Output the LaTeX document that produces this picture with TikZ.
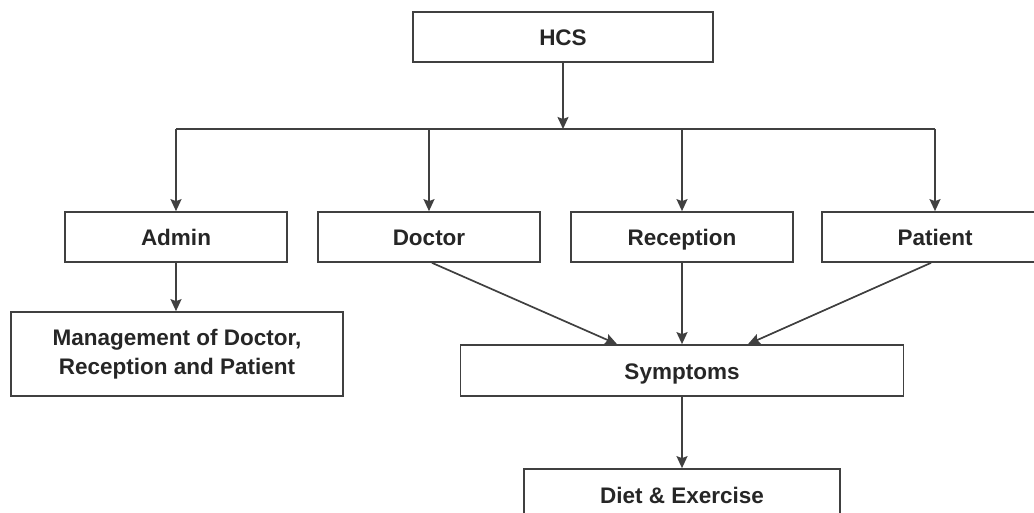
\documentclass[tikz,border=0pt]{standalone}
\usepackage{fontspec}
\setmainfont{Liberation Sans}
\usetikzlibrary{arrows.meta}

\begin{document}
\begin{tikzpicture}[
                x=1pt, y=1pt,
                node distance=253pt,
                every node/.style={
                    rectangle,
                    draw=black!75,
                    line width=1.7pt,
                    minimum width=222pt,
                    minimum height=50pt,
                    text height=21pt,
                    text depth=3pt,
                    inner sep=2pt,
                    text=black!85,
                    align=center,
                    font=\fontsize{22.5}{28.5}\selectfont\bfseries
                },
                >={Stealth[length=12pt,width=11pt,inset=2pt]},
                arrow/.style={->, draw=black!75, line width=1.7pt},
                wire/.style={draw=black!75, line width=1.7pt}
            ]
                \path[use as bounding box, clip] (0,0) rectangle (1034,-513);
                % nodes
                \node[minimum width=300pt] (hcs) at (563,-37) {HCS};
                \node (admin) at (176,-237) {Admin};
                \node (doctor) [right of=admin] {Doctor};
                \node (reception) [right of=doctor] {Reception};
                \node[minimum width=226pt] (patient) [right of=reception] {Patient};
                \node[minimum width=332pt, minimum height=84pt, text height=, text depth=] (mgmt) at (177,-354)
                    {Management of Doctor,\\Reception and Patient};
                \node[minimum width=443pt, minimum height=51pt] (symptoms) at (682,-370.5) {Symptoms};
                \node[minimum width=316pt] (diet) at (682,-494) {Diet \& Exercise};
                \coordinate (bus) at (0,-129);

                % edges
                \draw[arrow] (hcs) -- (hcs |- bus);
                \draw[wire] (admin |- bus) -- (patient |- bus);
                \foreach \n in {admin,doctor,reception,patient}
                    \draw[arrow] (\n |- bus) -- (\n);
                \draw[arrow] (admin) -- (admin |- mgmt.north);
                \draw[arrow] ([xshift=3pt]doctor.south) -- ([xshift=-65pt]symptoms.north);
                \draw[arrow] (reception) -- (reception |- symptoms.north);
                \draw[arrow] ([xshift=-4pt]patient.south) -- ([xshift=66pt]symptoms.north);
                \draw[arrow] (symptoms) -- (diet);
            \end{tikzpicture}
\end{document}
